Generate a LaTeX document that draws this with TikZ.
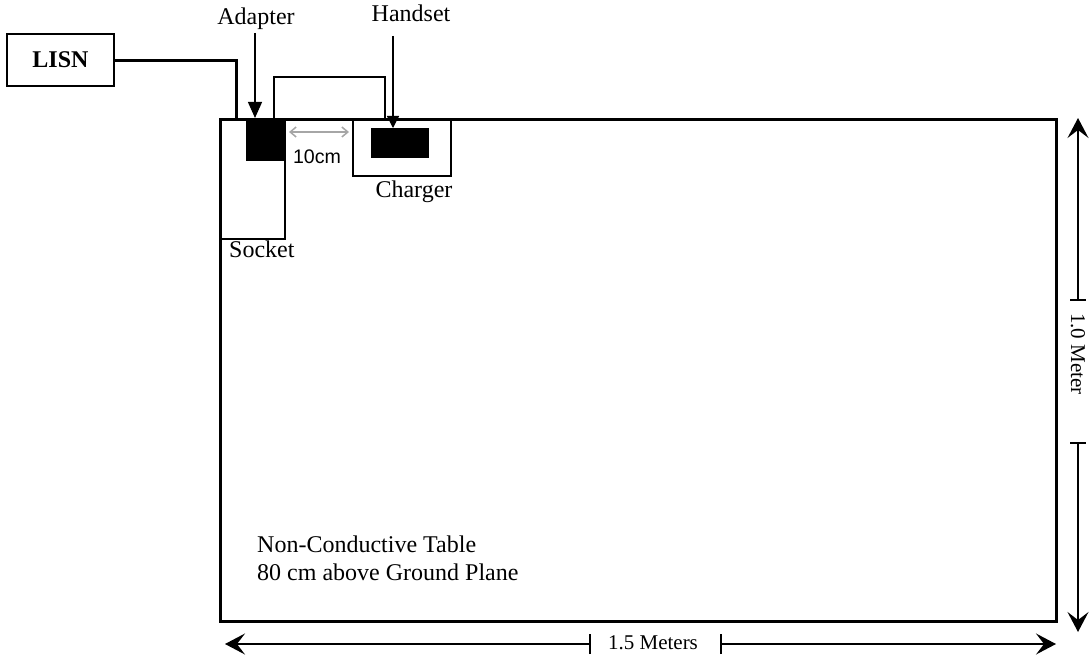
\documentclass[tikz,border=0pt]{standalone}
\usepackage{fontspec}
\setmainfont{Liberation Serif}
\newfontfamily\arialfont{Liberation Sans}
\usetikzlibrary{arrows.meta}
\begin{document}
\begin{tikzpicture}[x=1pt,y=-1pt,
  lbl/.style={inner sep=0pt,font=\fontsize{24}{28}\selectfont},
  dimlbl/.style={inner sep=0pt,font=\fontsize{21}{24}\selectfont},
  box/.style={draw,line width=2pt,inner sep=0pt,anchor=north west},
  blk/.style={fill=black,draw=none,inner sep=0pt,anchor=north west},
  thickwire/.style={line width=3pt},
  thinwire/.style={line width=1.5pt},
  ptr/.style={line width=1.2pt,-{Triangle[length=16pt,width=14pt]}},
  ptrs/.style={line width=1.2pt,-{Triangle[length=12pt,width=12pt]}},
  dim/.style={line width=1.5pt,-{Stealth[length=20pt,width=21pt,inset=8pt]}},
  tick/.style={line width=1.5pt},
  gap/.style={draw=gray!70,line width=1.5pt,{Straight Barb[length=6pt,width=10pt]}-{Straight Barb[length=6pt,width=10pt]}}
]
\useasboundingbox (0,0) rectangle (1089,658);
% table
\node[box,line width=3pt,minimum width=836pt,minimum height=502pt] (table) at (219,118) {};
% socket
\node[box,minimum width=65pt,minimum height=120pt] (socket) at (219,118) {};
% adapter
\node[blk,minimum width=38pt,minimum height=43pt] (adapter) at (246,118) {};
% charger
\node[box,minimum width=98pt,minimum height=57pt] (charger) at (352,118) {};
% handset
\node[blk,minimum width=58pt,minimum height=30pt] (handset) at (371,128) {};
% LISN
\node[draw,line width=1.5pt,minimum width=107pt,minimum height=52pt,inner sep=0pt,font=\fontsize{24}{28}\selectfont\bfseries] (lisn) at (60.5,60) {LISN};
% wires
\coordinate (lisncorner) at (236,61);
\coordinate (lisnend) at (236,118);
\draw[thickwire] (lisn.east |- lisncorner) -- (lisncorner) -- (lisnend);
\coordinate (aw1) at (274,118);
\coordinate (aw2) at (274,77);
\coordinate (aw3) at (385,77);
\coordinate (aw4) at (385,118);
\draw[thinwire] (aw1) -- (aw2) -- (aw3) -- (aw4);
% labels
\node[lbl,anchor=base] (adlbl) at (256,25) {Adapter};
\node[lbl,anchor=base] (hslbl) at (411,22) {Handset};
\node[lbl,anchor=base] (chlbl) at (414,197) {Charger};
\node[lbl,anchor=base west] (solbl) at (229,257) {Socket};
\coordinate (adtip) at (255,118);
\coordinate (adtail) at (255,33);
\draw[ptr] (adtail) -- (adtip);
\coordinate (hstip) at (393,128);
\coordinate (hstail) at (393,36);
\draw[ptrs] (hstail) -- (hstip);
% 10cm
\coordinate (g1) at (289,132);
\coordinate (g2) at (349,132);
\draw[gap] (g1) -- (g2);
\node[inner sep=0pt,anchor=base,font=\arialfont\fontsize{19.6}{22}\selectfont] (tencm) at (317,163) {10cm};
% table text
\node[lbl,anchor=base west,align=left] (ttext) at (257,580) {Non-Conductive Table\\80 cm above Ground Plane};
% right dimension
\node[dimlbl,rotate=-90] (mlbl) at (1078,354) {1.0 Meter};
\coordinate (r1) at (1078,300);
\coordinate (r2) at (1078,443);
\coordinate (rtop) at (1078,118);
\coordinate (rbot) at (1078,632);
\draw[dim] (r1) -- (rtop);
\draw[dim] (r2) -- (rbot);
\draw[tick] ([xshift=-8pt]r1) -- ([xshift=8pt]r1);
\draw[tick] ([xshift=-8pt]r2) -- ([xshift=8pt]r2);
% bottom dimension
\node[dimlbl] (mlbl2) at (653,643) {1.5 Meters};
\coordinate (b1) at (590,644);
\coordinate (b2) at (721,644);
\coordinate (bl) at (225,644);
\coordinate (br) at (1056,644);
\draw[dim] (b1) -- (bl);
\draw[dim] (b2) -- (br);
\draw[tick] ([yshift=-10pt]b1) -- ([yshift=10pt]b1);
\draw[tick] ([yshift=-10pt]b2) -- ([yshift=10pt]b2);
\end{tikzpicture}
\end{document}
